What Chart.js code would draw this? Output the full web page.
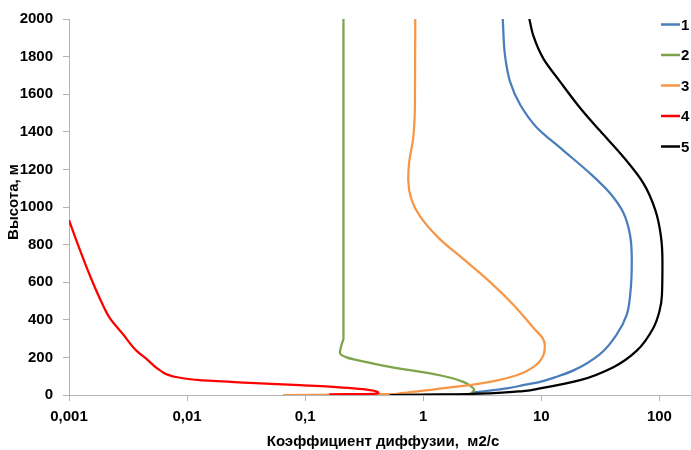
<!DOCTYPE html>
<html>
  <head>
    <meta charset="UTF-8">
    <title>Коэффициент диффузии</title>
    <script src="https://cdn.jsdelivr.net/npm/chart.js"></script>
    <style>
      body {
        margin: 0;
        background: white;
      }
      canvas {
        display: block;
      }
    </style>
  </head>
  <body>
    <canvas id="myChart" width="691" height="450"></canvas>

    <script>
      // profile names and colours
      const seriesNames = ["1", "2", "3", "4", "5"];
      const seriesColors = ["#4A7EBB", "#7EA34A", "#F79646", "#FF0000", "#000000"];

      // diffusion coefficient (m2/s) against height (m), one pair of arrays per profile
      const k1 = [2.6, 2.65, 3.67, 5.09, 7.0, 9.75, 13.5, 18.7, 31.4, 43.5, 52.9, 56.5, 58.3, 56.5, 49.5, 38.2, 25.9, 15.4, 9.14, 6.6, 5.43, 4.92, 4.71];
      const h1 = [0, 12, 23, 35, 52, 70, 97, 131, 218, 323, 428, 532, 707, 847, 969, 1073, 1178, 1300, 1423, 1545, 1667, 1806, 2000];

      const k2 = [0.43, 2.3, 2.6, 2.7, 2.55, 2.18, 1.38, 0.52, 0.3, 0.224, 0.197, 0.205, 0.211, 0.211];
      const h2 = [0, 3, 14, 28, 45, 70, 105, 150, 180, 200, 225, 275, 300, 2000];

      const k3 = [0.065, 0.3, 0.52, 0.634, 1.0, 1.92, 3.67, 6.2, 8.55, 10.5, 10.7, 10.3, 8.55, 5.79, 3.67, 2.18, 1.38, 0.937, 0.797, 0.746, 0.757, 0.823, 0.85, 0.855];
      const h3 = [0, 3, 5, 9, 23, 44, 70, 105, 148, 218, 265, 300, 358, 480, 602, 724, 829, 951, 1038, 1143, 1230, 1370, 1545, 2000];

      const k4 = [0.001, 0.00123, 0.0015, 0.00182, 0.00221, 0.00287, 0.00372, 0.00453, 0.0059, 0.0076, 0.0128, 0.034, 0.09, 0.16, 0.354, 0.417, 0.38, 0.16];
      const h4 = [930, 776, 637, 515, 410, 323, 236, 192, 131, 99, 79, 65, 52, 44, 26, 12, 6, 3];

      const k5 = [0.52, 1.5, 3.67, 7.0, 9.75, 21.3, 40.7, 64.3, 89, 100, 105, 106, 102.8, 92, 73.2, 49.5, 31.4, 21.3, 14.4, 10.4, 8.55, 7.91];
      const h5 = [0, 3, 9, 21, 35, 79, 148, 236, 358, 445, 532, 707, 847, 986, 1126, 1266, 1405, 1527, 1667, 1789, 1911, 2000];

      // axis ticks
      const xTicks = [0.001, 0.01, 0.1, 1, 10, 100];
      const xTickLabels = ["0,001", "0,01", "0,1", "1", "10", "100"];
      const yTicks = [0, 200, 400, 600, 800, 1000, 1200, 1400, 1600, 1800, 2000];

      const xTitle = "Коэффициент диффузии,  м2/с";
      const yTitle = "Высота, м";

      const FONT = 'bold 15px "Liberation Sans", Arial, sans-serif';
      const AXIS_GRAY = "#b4b4b4";

      const profiles = [[k1, h1], [k2, h2], [k3, h3], [k4, h4], [k5, h5]];

      // height is the index axis, so monotone smoothing follows each profile
      const datasets = profiles.map(function(p, i) {
        return {
          label: seriesNames[i],
          data: p[0].map(function(k, j) { return { x: k, y: p[1][j] }; }),
          showLine: true,
          borderColor: seriesColors[i],
          backgroundColor: seriesColors[i],
          borderWidth: 2.25,
          pointRadius: 0,
          cubicInterpolationMode: "monotone",
          order: 5 - i
        };
      });

      // axis titles and the legend on the right
      const labelsPlugin = {
        id: "labels",
        afterDraw: function(chart) {
          const ctx = chart.ctx;
          ctx.save();
          ctx.font = FONT;
          ctx.fillStyle = "#000";
          ctx.textBaseline = "middle";

          ctx.textAlign = "center";
          ctx.fillText(xTitle, 383, 442);

          ctx.save();
          ctx.translate(14, 202);
          ctx.rotate(-Math.PI / 2);
          ctx.fillText(yTitle, 0, 0);
          ctx.restore();

          ctx.textAlign = "left";
          seriesNames.forEach(function(name, i) {
            const y = 24.5 + i * 30.5;
            ctx.strokeStyle = seriesColors[i];
            ctx.lineWidth = 2.5;
            ctx.beginPath();
            ctx.moveTo(661, y);
            ctx.lineTo(680, y);
            ctx.stroke();
            ctx.fillText(name, 681, y + 1);
          });
          ctx.restore();
        }
      };

      const ctx = document.getElementById("myChart").getContext("2d");
      const myChart = new Chart(ctx, {
        type: "scatter",
        data: { datasets: datasets },
        plugins: [labelsPlugin],
        options: {
          indexAxis: "y",
          responsive: false,
          animation: false,
          devicePixelRatio: 1,
          layout: {
            padding: { top: 13, right: 0, left: 0, bottom: 0 }
          },
          scales: {
            x: {
              type: "logarithmic",
              min: 0.001,
              max: 185,
              afterBuildTicks: function(scale) {
                scale.ticks = xTicks.map(function(v) { return { value: v }; });
              },
              afterFit: function(scale) {
                scale.height = 55;
              },
              ticks: {
                autoSkip: false,
                maxRotation: 0,
                padding: 7,
                color: "#000",
                font: { family: '"Liberation Sans", Arial, sans-serif', size: 15, weight: "bold" },
                callback: function(value, index) {
                  return xTickLabels[index];
                }
              },
              grid: {
                drawOnChartArea: false,
                drawTicks: true,
                tickLength: 6,
                color: AXIS_GRAY
              },
              border: { color: AXIS_GRAY, width: 1 }
            },
            y: {
              type: "linear",
              min: 0,
              max: 2000,
              afterBuildTicks: function(scale) {
                scale.ticks = yTicks.map(function(v) { return { value: v }; });
              },
              afterFit: function(scale) {
                scale.width = 69;
              },
              ticks: {
                padding: 10,
                color: "#000",
                font: { family: '"Liberation Sans", Arial, sans-serif', size: 15, weight: "bold" },
                callback: function(value) {
                  return String(value);
                }
              },
              grid: {
                drawOnChartArea: false,
                drawTicks: true,
                tickLength: 6,
                color: AXIS_GRAY
              },
              border: { color: AXIS_GRAY, width: 1 }
            }
          },
          plugins: {
            legend: { display: false },
            tooltip: { enabled: false }
          }
        }
      });
    </script>
  </body>
</html>
